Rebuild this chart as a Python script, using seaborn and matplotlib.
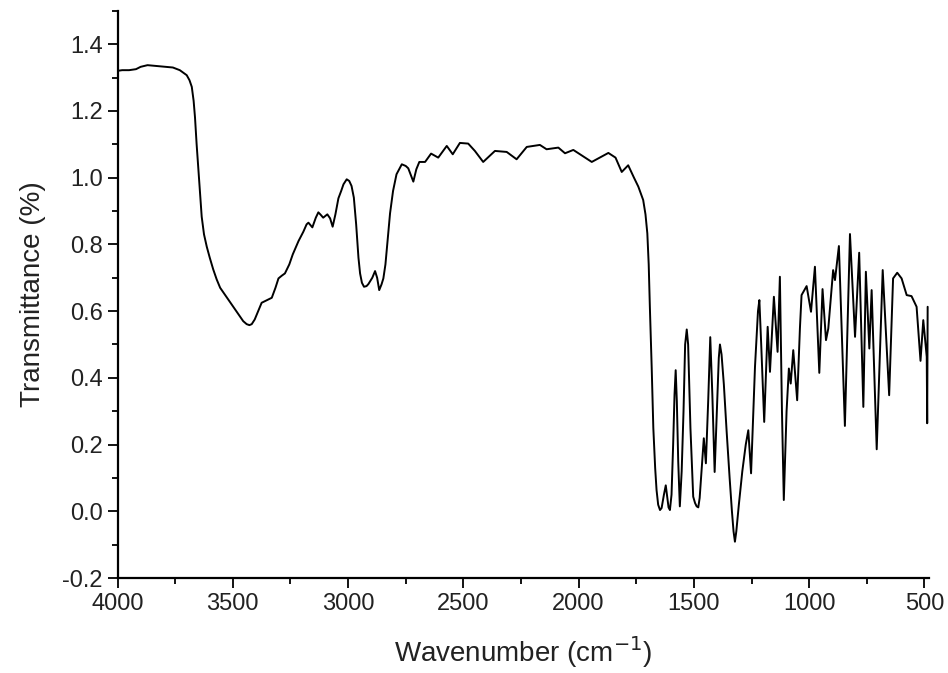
import matplotlib
matplotlib.use("Agg")
import matplotlib.pyplot as plt
import numpy as np
import pandas as pd
import seaborn as sns
from matplotlib.ticker import MultipleLocator, FormatStrFormatter


# FTIR spectrum
wavenumber = [
    4000, 3980, 3950, 3920, 3900, 3870, 3840, 3800, 3760, 3730,
    3700, 3688, 3678, 3670, 3664, 3657, 3650, 3642, 3635, 3625,
    3613, 3600, 3585, 3570, 3555, 3540, 3525, 3510, 3498, 3485,
    3470, 3455, 3440, 3428, 3418, 3405, 3390, 3375, 3360, 3345,
    3331, 3315, 3302, 3288, 3274, 3255, 3240, 3215, 3194, 3180,
    3172, 3155, 3140, 3129, 3118, 3108, 3090, 3078, 3067, 3055,
    3042, 3030, 3020, 3006, 2995, 2985, 2975, 2965, 2955, 2948,
    2940, 2931, 2920, 2912, 2895, 2883, 2874, 2865, 2855, 2847,
    2838, 2830, 2818, 2805, 2790, 2767, 2750, 2739, 2717, 2704,
    2691, 2666, 2640, 2609, 2572, 2546, 2515, 2479, 2450, 2414,
    2363, 2312, 2269, 2225, 2168, 2139, 2088, 2059, 2023, 1943,
    1871, 1840, 1813, 1785, 1760, 1741, 1720, 1710, 1702, 1696,
    1691, 1683, 1676, 1668, 1662, 1655, 1647, 1640, 1630, 1622,
    1615, 1610, 1604, 1597, 1590, 1584, 1579, 1574, 1568, 1561,
    1553, 1545, 1538, 1531, 1525, 1515, 1503, 1495, 1488, 1481,
    1475, 1466, 1457, 1448, 1438, 1429, 1420, 1410, 1398, 1392,
    1387, 1380, 1370, 1358, 1345, 1335, 1328, 1322, 1316, 1305,
    1290, 1275, 1264, 1252, 1242, 1235, 1222, 1216, 1208, 1195,
    1180, 1170, 1153, 1137, 1127, 1118, 1110, 1098, 1088, 1080,
    1069, 1052, 1040, 1033, 1011, 992, 975, 956, 942, 927,
    917, 896, 888, 871, 845, 823, 801, 783, 765, 754,
    739, 729, 707, 681, 653, 636, 618, 599, 577, 556,
    534, 517, 505, 490, 488, 486,
]
transmittance = [
    1.320, 1.322, 1.322, 1.325, 1.332, 1.337, 1.335, 1.332, 1.330, 1.322,
    1.307, 1.292, 1.272, 1.230, 1.180, 1.100, 1.030, 0.950, 0.883, 0.830,
    0.793, 0.760, 0.725, 0.695, 0.670, 0.655, 0.640, 0.625, 0.613, 0.600,
    0.585, 0.570, 0.561, 0.558, 0.561, 0.575, 0.600, 0.625, 0.630, 0.635,
    0.640, 0.670, 0.698, 0.706, 0.713, 0.740, 0.770, 0.810, 0.838, 0.860,
    0.865, 0.851, 0.880, 0.896, 0.888, 0.880, 0.890, 0.878, 0.853, 0.890,
    0.938, 0.960, 0.980, 0.995, 0.990, 0.975, 0.940, 0.860, 0.760, 0.713,
    0.685, 0.673, 0.675, 0.681, 0.700, 0.720, 0.700, 0.663, 0.680, 0.698,
    0.740, 0.800, 0.893, 0.960, 1.010, 1.040, 1.035, 1.028, 0.988, 1.025,
    1.047, 1.047, 1.072, 1.060, 1.095, 1.070, 1.104, 1.102, 1.080, 1.047,
    1.080, 1.077, 1.055, 1.092, 1.098, 1.085, 1.090, 1.073, 1.083, 1.047,
    1.074, 1.060, 1.017, 1.037, 1.000, 0.973, 0.933, 0.890, 0.833, 0.740,
    0.613, 0.430, 0.250, 0.130, 0.064, 0.020, 0.004, 0.010, 0.050, 0.078,
    0.040, 0.012, 0.004, 0.050, 0.200, 0.350, 0.423, 0.330, 0.150, 0.015,
    0.120, 0.300, 0.500, 0.545, 0.500, 0.250, 0.044, 0.025, 0.015, 0.012,
    0.040, 0.130, 0.219, 0.144, 0.330, 0.522, 0.350, 0.118, 0.350, 0.460,
    0.500, 0.470, 0.380, 0.240, 0.100, 0.000, -0.060, -0.091, -0.060, 0.020,
    0.120, 0.200, 0.243, 0.114, 0.300, 0.433, 0.600, 0.633, 0.500, 0.268,
    0.553, 0.418, 0.643, 0.478, 0.703, 0.300, 0.034, 0.300, 0.428, 0.383,
    0.483, 0.333, 0.550, 0.648, 0.675, 0.598, 0.733, 0.415, 0.666, 0.513,
    0.548, 0.723, 0.693, 0.795, 0.256, 0.831, 0.523, 0.775, 0.313, 0.718,
    0.488, 0.663, 0.186, 0.723, 0.348, 0.698, 0.715, 0.698, 0.648, 0.645,
    0.613, 0.451, 0.573, 0.463, 0.264, 0.613,
]

x_ticks = [4000, 3500, 3000, 2500, 2000, 1500, 1000, 500]
y_ticks = [-0.2, 0.0, 0.2, 0.4, 0.6, 0.8, 1.0, 1.2, 1.4]


def main():
    sns.set_style("ticks")
    plt.rcParams["font.family"] = ["Liberation Sans", "DejaVu Sans"]
    plt.rcParams["axes.unicode_minus"] = False

    df = pd.DataFrame({"wn": wavenumber, "T": transmittance})

    fig = plt.figure(figsize=(9.48, 6.73), dpi=100)
    ax = fig.add_axes([0.124, 0.141, 0.856, 0.843])

    sns.lineplot(data=df, x="wn", y="T", ax=ax, color="black",
                 linewidth=1.4, sort=False, estimator=None)

    ax.set_xlim(4000, 480)
    ax.set_ylim(-0.2, 1.5)
    ax.set_xticks(x_ticks)
    ax.set_yticks(y_ticks)
    ax.xaxis.set_minor_locator(MultipleLocator(250))
    ax.yaxis.set_minor_locator(MultipleLocator(0.1))
    ax.yaxis.set_major_formatter(FormatStrFormatter("%.1f"))

    ax.tick_params(which="major", direction="out", length=7, width=1.3,
                   labelsize=17, color="black", labelcolor="#222222")
    ax.tick_params(which="minor", direction="out", length=4, width=1.3,
                   color="black")
    for side in ["left", "bottom"]:
        ax.spines[side].set_linewidth(1.6)
        ax.spines[side].set_color("black")
    sns.despine(ax=ax)

    ax.set_xlabel("Wavenumber (cm$^{-1}$)", fontsize=20, color="#222222",
                  labelpad=14)
    ax.set_ylabel("Transmittance (%)", fontsize=20, color="#222222",
                  labelpad=12)

    fig.savefig("out.png", dpi=100)


if __name__ == "__main__":
    main()
